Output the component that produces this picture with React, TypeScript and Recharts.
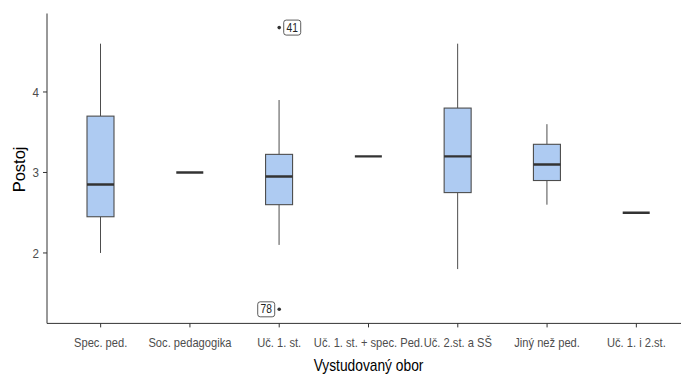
import React from "react";
import { ComposedChart, Bar, Line, XAxis, YAxis } from "recharts";

const categories = [
  "Spec. ped.",
  "Soc. pedagogika",
  "Uč. 1. st.",
  "Uč. 1. st. + spec. Ped.",
  "Uč. 2.st. a SŠ",
  "Jiný než ped.",
  "Uč. 1. i 2.st.",
];
const whiskerLow = [2.0, 3.0, 2.1, 3.2, 1.8, 2.6, 2.5];
const quartile1 = [2.45, 3.0, 2.6, 3.2, 2.75, 2.9, 2.5];
const medians = [2.85, 3.0, 2.95, 3.2, 3.2, 3.1, 2.5];
const quartile3 = [3.7, 3.0, 3.225, 3.2, 3.8, 3.35, 2.5];
const whiskerHigh = [4.6, 3.0, 3.9, 3.2, 4.6, 3.6, 2.5];
const outlierHigh: (number | null)[] = [null, null, 4.8, null, null, null, null];
const outlierHighLabels: (string | null)[] = [null, null, "41", null, null, null, null];
const outlierLow: (number | null)[] = [null, null, 1.3, null, null, null, null];
const outlierLowLabels: (string | null)[] = [null, null, "78", null, null, null, null];
const yTicks = [2, 3, 4];
const yDomain = [1.125, 4.975];

const data = categories.map((cat, i) => ({
  cat,
  lo: whiskerLow[i],
  q1: quartile1[i],
  med: medians[i],
  q3: quartile3[i],
  hi: whiskerHigh[i],
  range: [whiskerLow[i], whiskerHigh[i]],
  outHigh: outlierHigh[i],
  outHighLabel: outlierHighLabels[i],
  outLow: outlierLow[i],
  outLowLabel: outlierLowLabels[i],
}));

const FONT = '"Liberation Sans", Arial, sans-serif';
const SQUEEZE = 0.82;
const FILL = "#aecbf2";
const EDGE = "#4d4d4d";
const DARK = "#333333";

function BoxShape(props: any) {
  const { x, y, width, height, payload } = props;
  if (x == null || y == null || !payload) return <g />;
  const top = Math.min(y, y + height);
  const h = Math.abs(height);
  const span = payload.hi - payload.lo;
  const ppu = span > 0 ? h / span : 0;
  const py = (v: number) => top + (payload.hi - v) * ppu;
  const cx = x + width / 2;
  const yQ1 = py(payload.q1);
  const yQ3 = py(payload.q3);
  const yMed = py(payload.med);
  return (
    <g>
      {span > 0 && (
        <>
          <line x1={cx} x2={cx} y1={py(payload.hi)} y2={yQ3} stroke={EDGE} strokeWidth={1} />
          <line x1={cx} x2={cx} y1={yQ1} y2={py(payload.lo)} stroke={EDGE} strokeWidth={1} />
          <rect x={x} y={yQ3} width={width} height={yQ1 - yQ3} fill={FILL} stroke={EDGE} strokeWidth={1.1} />
        </>
      )}
      <line x1={x} x2={x + width} y1={yMed} y2={yMed} stroke={DARK} strokeWidth={2.4} />
    </g>
  );
}

function makeOutlierDot(labelKey: string, side: "left" | "right") {
  return (props: any) => {
    const { cx, cy, payload, index, value } = props;
    if (cx == null || cy == null || value == null || !payload || payload[labelKey] == null) {
      return <g key={`o-${labelKey}-${index}`} />;
    }
    const label = String(payload[labelKey]);
    const bw = 17;
    const bh = 15;
    const bx = side === "right" ? cx + 4.5 : cx - 4.5 - bw;
    const tx = bx + bw / 2;
    const ty = cy + 4;
    return (
      <g key={`o-${labelKey}-${index}`}>
        <circle cx={cx} cy={cy} r={1.8} fill={DARK} />
        <rect x={bx} y={cy - bh / 2} width={bw} height={bh} rx={2.5} ry={2.5} fill="#ffffff" stroke={DARK} strokeWidth={0.8} />
        <text transform={`translate(${tx},${ty}) scale(${SQUEEZE},1)`} textAnchor="middle" fontFamily={FONT} fontSize={12.5} fill="#222">
          {label}
        </text>
      </g>
    );
  };
}

function XTick(props: any) {
  const { x, y, payload } = props;
  return (
    <g transform={`translate(${x},${y})`}>
      <text transform={`scale(${SQUEEZE},1)`} textAnchor="middle" dy="0.71em" fontFamily={FONT} fontSize={13.6} fill="#4d4d4d">
        {payload.value}
      </text>
    </g>
  );
}

function YTick(props: any) {
  const { x, y, payload } = props;
  return (
    <g transform={`translate(${x},${y})`}>
      <text transform="scale(0.88,1)" textAnchor="end" dy="0.355em" fontFamily={FONT} fontSize={13.2} fill="#4d4d4d">
        {payload.value}
      </text>
    </g>
  );
}

function XTitle(props: any) {
  const vb = props.viewBox || {};
  const x = (vb.x ?? 0) + (vb.width ?? 0) / 2;
  const y = (vb.y ?? 0) + (vb.height ?? 0) - 5.5;
  return (
    <text transform={`translate(${x},${y}) scale(${SQUEEZE},1)`} textAnchor="middle" fontFamily={FONT} fontSize={16.8} fill="#000">
      Vystudovaný obor
    </text>
  );
}

function YTitle(props: any) {
  const vb = props.viewBox || {};
  const x = (vb.x ?? 0) + 19;
  const y = (vb.y ?? 0) + (vb.height ?? 0) / 2 + 1;
  return (
    <text x={x} y={y} transform={`rotate(-90, ${x}, ${y})`} textAnchor="middle" dominantBaseline="central" fontFamily={FONT} fontSize={16.5} fill="#000">
      Postoj
    </text>
  );
}

export default function App() {
  return (
    <div style={{ position: "fixed", left: 0, top: 0, width: 681, height: 376, overflow: "hidden", background: "#fff" }}>
      <ComposedChart width={690} height={376} data={data} margin={{ top: 13.5, right: 0, bottom: 0, left: 0 }}>
        <XAxis
          dataKey="cat"
          interval={0}
          padding={{ left: 9, right: 9 }}
          height={52.6}
          tickSize={4}
          tickMargin={9.5}
          axisLine={{ stroke: DARK, strokeWidth: 1 }}
          tickLine={{ stroke: DARK, strokeWidth: 1 }}
          tick={<XTick />}
          label={<XTitle />}
        />
        <YAxis
          type="number"
          domain={yDomain}
          ticks={yTicks}
          width={47}
          tickSize={4}
          tickMargin={4}
          axisLine={{ stroke: DARK, strokeWidth: 1 }}
          tickLine={{ stroke: DARK, strokeWidth: 1 }}
          tick={<YTick />}
          allowDataOverflow
          label={<YTitle />}
        />
        <Bar dataKey="range" barSize={27} shape={<BoxShape />} isAnimationActive={false} />
        <Line dataKey="outHigh" stroke="none" dot={makeOutlierDot("outHighLabel", "right")} activeDot={false} isAnimationActive={false} />
        <Line dataKey="outLow" stroke="none" dot={makeOutlierDot("outLowLabel", "left")} activeDot={false} isAnimationActive={false} />
      </ComposedChart>
    </div>
  );
}
